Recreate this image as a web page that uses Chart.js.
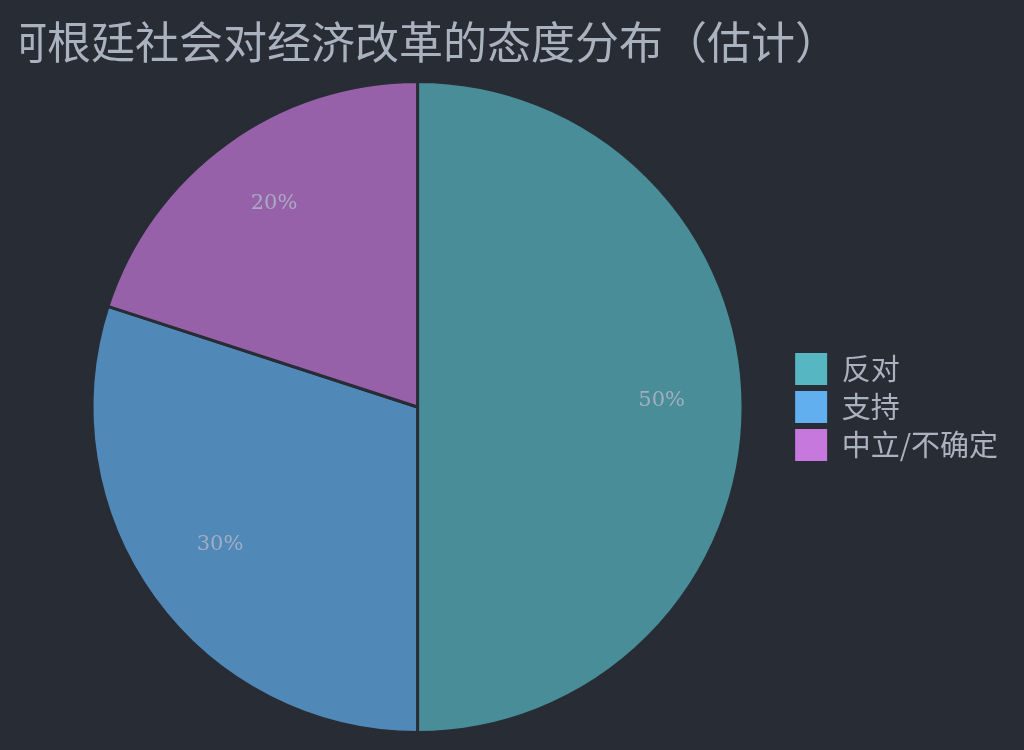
<!DOCTYPE html>
<html lang="zh">
<head>
    <meta charset="UTF-8">
    <title>阿根廷社会对经济改革的态度分布（估计）</title>
    <script src="https://cdn.jsdelivr.net/npm/chart.js"></script>
    <style>
        html, body {
            margin: 0;
            padding: 0;
            background: #282c34;
            overflow: hidden;
        }
        .wrap {
            width: 1024px;
            height: 750px;
        }
    </style>
</head>
<body>
    <div class="wrap"><canvas id="pie"></canvas></div>

    <script>
        const titleText = '阿根廷社会对经济改革的态度分布（估计）';
        const labels = ['反对', '支持', '中立/不确定'];
        const values = [50, 30, 20];
        const colors = ['#56b6c2', '#61afef', '#c678dd'];
        const fills = ['rgba(86,182,194,0.7)', 'rgba(97,175,239,0.7)', 'rgba(198,120,221,0.7)'];

        // title is clipped at the left edge in the original
        const clippedTitle = {
            id: 'clippedTitle',
            afterDraw(chart) {
                const ctx = chart.ctx;
                ctx.save();
                ctx.beginPath();
                ctx.rect(21, 0, chart.width, 80);
                ctx.clip();
                ctx.fillStyle = '#abb2bf';
                ctx.font = '44px "Noto Sans CJK SC", sans-serif';
                ctx.textBaseline = 'middle';
                ctx.textAlign = 'left';
                ctx.fillText(titleText, 3, 42);
                ctx.restore();
            }
        };

        // percentage labels inside the slices
        const pctLabels = {
            id: 'pctLabels',
            afterDatasetsDraw(chart) {
                const ctx = chart.ctx;
                const meta = chart.getDatasetMeta(0);
                const total = values.reduce((a, b) => a + b, 0);
                ctx.save();
                ctx.fillStyle = 'rgba(171,178,195,0.9)';
                ctx.font = '21px "DejaVu Serif", serif';
                ctx.textAlign = 'center';
                ctx.textBaseline = 'middle';
                meta.data.forEach((arc, i) => {
                    const mid = (arc.startAngle + arc.endAngle) / 2;
                    const r = arc.outerRadius * 0.75;
                    const x = arc.x + Math.cos(mid) * r;
                    const y = arc.y + Math.sin(mid) * r - 6;
                    ctx.fillText(Math.round(values[i] / total * 100) + '%', x, y);
                });
                ctx.restore();
            }
        };

        new Chart(document.getElementById('pie'), {
            type: 'pie',
            data: {
                labels: labels,
                datasets: [{
                    data: values,
                    backgroundColor: fills,
                    borderColor: '#282c34',
                    borderWidth: 3
                }]
            },
            options: {
                responsive: true,
                maintainAspectRatio: false,
                animation: false,
                layout: {
                    padding: { left: 46, top: 80, bottom: 16, right: 16 }
                },
                plugins: {
                    title: { display: false },
                    tooltip: { enabled: false },
                    legend: {
                        position: 'right',
                        labels: {
                            color: '#abb2bf',
                            font: { size: 29, family: '"Noto Sans CJK SC", sans-serif' },
                            boxWidth: 32,
                            boxHeight: 32,
                            padding: 6,
                            generateLabels(chart) {
                                return labels.map((l, i) => ({
                                    text: l,
                                    fillStyle: colors[i],
                                    strokeStyle: colors[i],
                                    lineWidth: 0,
                                    fontColor: '#abb2bf',
                                    index: i
                                }));
                            }
                        }
                    }
                }
            },
            plugins: [clippedTitle, pctLabels]
        });
    </script>
</body>
</html>
